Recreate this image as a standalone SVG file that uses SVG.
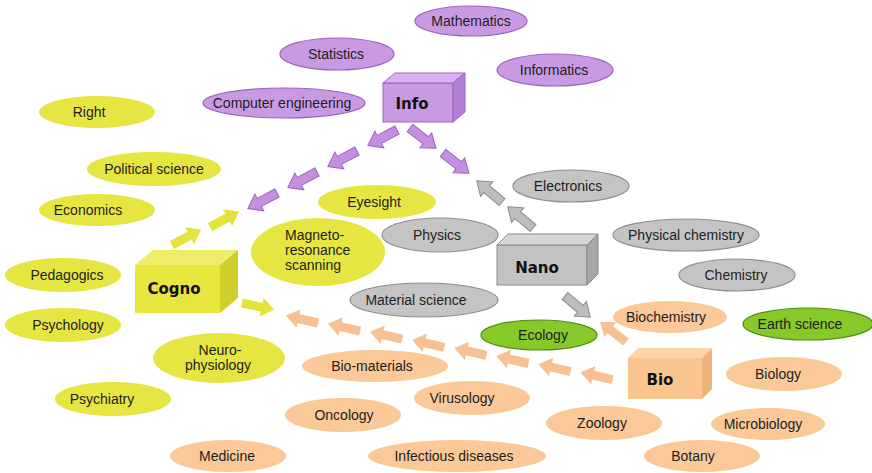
<svg xmlns="http://www.w3.org/2000/svg" xmlns:xlink="http://www.w3.org/1999/xlink" width="872" height="473" viewBox="0 0 872 473">
<style>
text{font-family:"Liberation Sans",Arial,sans-serif;font-size:14px;fill:#1e1e1e;text-anchor:middle}
.box text{font-family:"DejaVu Sans",Verdana,sans-serif;font-weight:bold;font-size:15px;fill:#111}
.pu{fill:#c99ae2;stroke:#9b63c2;stroke-width:1.2}
.ye{fill:#e5e642}
.gr{fill:#c4c4c4;stroke:#8e8e8e;stroke-width:1.2}
.gn{fill:#86c928;stroke:#4f8c14;stroke-width:1.2}
.or{fill:#fbc898}
.puF{fill:#c99ae2;stroke:#9b63c2}.puT{fill:#d8b2ee;stroke:#9b63c2}.puS{fill:#b37fd2;stroke:#9b63c2}
.yeF{fill:#e6e63e}.yeT{fill:#eded6a}.yeS{fill:#cfcf2a}
.grF{fill:#c2c2c2;stroke:#8a8a8a}.grT{fill:#d6d6d6;stroke:#8a8a8a}.grS{fill:#a6a6a6;stroke:#8a8a8a}
.orF{fill:#fbc58f}.orT{fill:#fdd3a8}.orS{fill:#efb27a}
.aP{fill:#c690e0;stroke:#9b63c2;stroke-width:1}
.aY{fill:#e3e43a}
.aO{fill:#f8c193}
.aG{fill:#bdbdbd;stroke:#8a8a8a;stroke-width:1}
</style>
<defs>
<path id="arr" d="M0,-4.5 H20 V-9.5 L33,0 L20,9.5 V4.5 H0 Z"/>
</defs>
<rect width="872" height="473" fill="#ffffff"/>

<g id="mathematics"><ellipse class="pu" cx="471" cy="21" rx="56" ry="15"/><text x="471" y="26">Mathematics</text></g>
<g id="statistics"><ellipse class="pu" cx="337" cy="54" rx="57" ry="16"/><text x="336" y="59">Statistics</text></g>
<g id="informatics"><ellipse class="pu" cx="555" cy="70" rx="58" ry="16"/><text x="554" y="75">Informatics</text></g>
<g id="computer-engineering"><ellipse class="pu" cx="284" cy="103" rx="81" ry="15"/><text x="282" y="108">Computer engineering</text></g>

<g id="right"><ellipse class="ye" cx="97" cy="112" rx="58" ry="16"/><text x="89" y="117">Right</text></g>
<g id="political-science"><ellipse class="ye" cx="154" cy="169" rx="67" ry="17"/><text x="154" y="174">Political science</text></g>
<g id="economics"><ellipse class="ye" cx="97" cy="210" rx="58" ry="16"/><text x="88" y="215">Economics</text></g>
<g id="eyesight"><ellipse class="ye" cx="377" cy="202" rx="59" ry="17"/><text x="374" y="207">Eyesight</text></g>
<g id="magneto"><ellipse class="ye" cx="318" cy="252" rx="67" ry="34"/><text x="285" y="240" style="text-anchor:start">Magneto-</text><text x="285" y="255" style="text-anchor:start">resonance</text><text x="285" y="270" style="text-anchor:start">scanning</text></g>
<g id="pedagogics"><ellipse class="ye" cx="63" cy="275" rx="58" ry="17"/><text x="67" y="280">Pedagogics</text></g>
<g id="psychology"><ellipse class="ye" cx="63" cy="325" rx="58" ry="17"/><text x="68" y="330">Psychology</text></g>
<g id="neurophysiology"><ellipse class="ye" cx="219" cy="358" rx="66" ry="25"/><text x="220" y="355">Neuro-</text><text x="218" y="370">physiology</text></g>
<g id="psychiatry"><ellipse class="ye" cx="113" cy="399" rx="58" ry="17"/><text x="102" y="404">Psychiatry</text></g>

<g id="electronics"><ellipse class="gr" cx="571" cy="186" rx="58" ry="16"/><text x="568" y="191">Electronics</text></g>
<g id="physics"><ellipse class="gr" cx="440" cy="235" rx="58" ry="17"/><text x="437" y="240">Physics</text></g>
<g id="physical-chemistry"><ellipse class="gr" cx="686" cy="235" rx="73" ry="16"/><text x="686" y="240">Physical chemistry</text></g>
<g id="chemistry"><ellipse class="gr" cx="737" cy="275" rx="58" ry="16"/><text x="736" y="280">Chemistry</text></g>
<g id="material-science"><ellipse class="gr" cx="424" cy="300" rx="74" ry="17"/><text x="416" y="305">Material science</text></g>

<g id="ecology"><ellipse class="gn" cx="539" cy="335" rx="58" ry="15"/><text x="543" y="340">Ecology</text></g>
<g id="earth-science"><ellipse class="gn" cx="808" cy="324" rx="65" ry="16"/><text x="800" y="329">Earth science</text></g>

<g id="biochemistry"><ellipse class="or" cx="670" cy="317" rx="57" ry="16"/><text x="666" y="322">Biochemistry</text></g>
<g id="bio-materials"><ellipse class="or" cx="375" cy="366" rx="73" ry="16"/><text x="372" y="371">Bio-materials</text></g>
<g id="biology"><ellipse class="or" cx="784" cy="374" rx="58" ry="17"/><text x="778" y="379">Biology</text></g>
<g id="virusology"><ellipse class="or" cx="472" cy="398" rx="58" ry="17"/><text x="462" y="403">Virusology</text></g>
<g id="oncology"><ellipse class="or" cx="343" cy="415" rx="58" ry="17"/><text x="344" y="420">Oncology</text></g>
<g id="zoology"><ellipse class="or" cx="604" cy="423" rx="58" ry="17"/><text x="602" y="428">Zoology</text></g>
<g id="microbiology"><ellipse class="or" cx="768" cy="424" rx="57" ry="16"/><text x="763" y="429">Microbiology</text></g>
<g id="medicine"><ellipse class="or" cx="228" cy="456" rx="58" ry="16"/><text x="227" y="461">Medicine</text></g>
<g id="infectious-diseases"><ellipse class="or" cx="457" cy="456" rx="89" ry="16"/><text x="454" y="461">Infectious diseases</text></g>
<g id="botany"><ellipse class="or" cx="702" cy="456" rx="58" ry="16"/><text x="693" y="461">Botany</text></g>

<g id="info" class="box">
<rect class="puF" x="383" y="83" width="70" height="39"/>
<path class="puT" d="M383,83 L395,73 L465,73 L453,83 Z"/>
<path class="puS" d="M453,83 L465,73 L465,112 L453,122 Z"/>
<text x="412" y="109">Info</text>
</g>
<g id="nano" class="box">
<rect class="grF" x="497" y="245" width="90" height="40"/>
<path class="grT" d="M497,245 L508,234 L598,234 L587,245 Z"/>
<path class="grS" d="M587,245 L598,234 L598,274 L587,285 Z"/>
<text x="537" y="273">Nano</text>
</g>
<g id="bio" class="box">
<rect class="orF" x="628" y="358" width="74" height="41"/>
<path class="orT" d="M628,358 L638,348 L712,348 L702,358 Z"/>
<path class="orS" d="M702,358 L712,348 L712,389 L702,399 Z"/>
<text x="660" y="385">Bio</text>
</g>
<g id="cogno" class="box">
<rect class="yeF" x="135" y="265" width="85" height="48"/>
<path class="yeT" d="M135,265 L153,250 L238,250 L220,265 Z"/>
<path class="yeS" d="M220,265 L238,250 L238,298 L220,313 Z"/>
<text x="174" y="294">Cogno</text>
</g>

<g id="connectors">
<use xlink:href="#arr" class="aP" transform="translate(397,130) rotate(152)"/>
<use xlink:href="#arr" class="aP" transform="translate(357,151) rotate(152)"/>
<use xlink:href="#arr" class="aP" transform="translate(317,172) rotate(152)"/>
<use xlink:href="#arr" class="aP" transform="translate(277,193) rotate(152)"/>
<use xlink:href="#arr" class="aP" transform="translate(410,128) rotate(38)"/>
<use xlink:href="#arr" class="aP" transform="translate(443,153) rotate(38)"/>
<use xlink:href="#arr" class="aY" transform="translate(172,245) rotate(-28)"/>
<use xlink:href="#arr" class="aY" transform="translate(210,227) rotate(-28)"/>
<use xlink:href="#arr" class="aY" transform="translate(242,303) rotate(12)"/>
<use xlink:href="#arr" class="aG" transform="translate(533,228) rotate(-140)"/>
<use xlink:href="#arr" class="aG" transform="translate(502,202) rotate(-140)"/>
<use xlink:href="#arr" class="aG" transform="translate(565,296) rotate(40)"/>
<use xlink:href="#arr" class="aO" transform="translate(626,342) rotate(-142)"/>
<use xlink:href="#arr" class="aO" transform="translate(318,323) rotate(193)"/>
<use xlink:href="#arr" class="aO" transform="translate(360.1,331.1) rotate(193)"/>
<use xlink:href="#arr" class="aO" transform="translate(402.2,339.2) rotate(193)"/>
<use xlink:href="#arr" class="aO" transform="translate(444.3,347.3) rotate(193)"/>
<use xlink:href="#arr" class="aO" transform="translate(486.4,355.4) rotate(193)"/>
<use xlink:href="#arr" class="aO" transform="translate(528.5,363.5) rotate(193)"/>
<use xlink:href="#arr" class="aO" transform="translate(570.6,371.6) rotate(193)"/>
<use xlink:href="#arr" class="aO" transform="translate(612.7,379.7) rotate(193)"/>
</g>
</svg>
